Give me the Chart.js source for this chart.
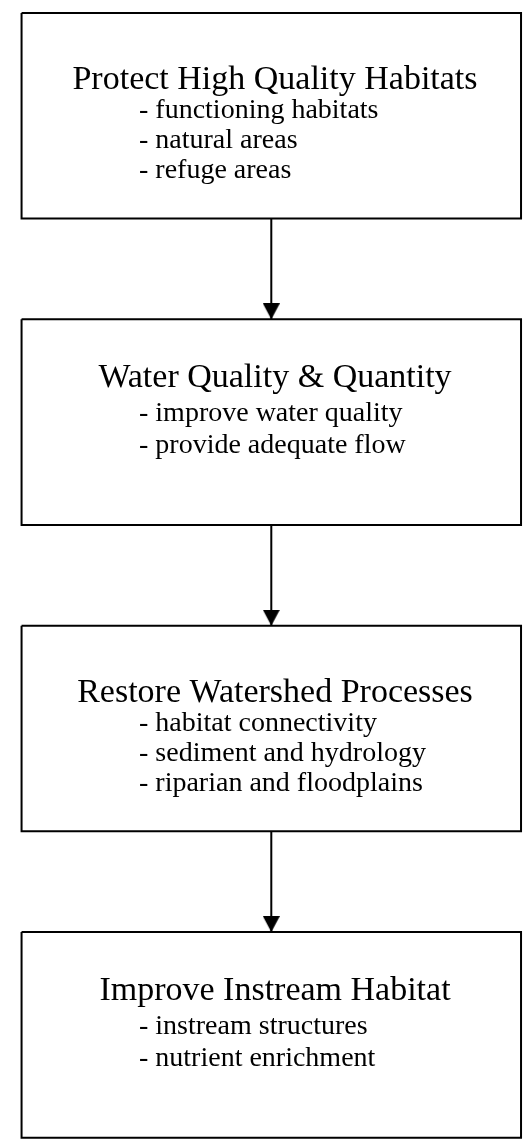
<!DOCTYPE html>
<html><head><meta charset="utf-8">
<script src="https://cdn.jsdelivr.net/npm/chart.js@4/dist/chart.umd.min.js"></script>
<style>html,body{margin:0;padding:0;background:#fff;}#wrap{width:531px;height:1140px;position:relative;}</style>
</head><body><div id="wrap"><canvas id="c"></canvas></div>
<script>
// ---- data ----
const stageTitles = ["Protect High Quality Habitats", "Water Quality & Quantity", "Restore Watershed Processes", "Improve Instream Habitat"];
const stageItems = [
  ["functioning habitats", "natural areas", "refuge areas"],
  ["improve water quality", "provide adequate flow"],
  ["habitat connectivity", "sediment and hydrology", "riparian and floodplains"],
  ["instream structures", "nutrient enrichment"]
];
const stageOrder = [0, 1, 2, 3];

// ---- layout (not data) ----
const BOX_H = 0.671;         // box height in stage units
const TITLE_FONT = '34px "Liberation Serif", "Times New Roman", serif';
const ITEM_FONT = '28px "Liberation Serif", "Times New Roman", serif';
// baseline offsets (px below box top): [title, item1, item2, ...]
const LINE_OFFSETS = { 3: [76, 105, 135, 165], 2: [68, 102, 134] };
const itemX = 139;
const titleX = 275;

// arrowhead image: tip at the centre of the canvas
const head = document.createElement('canvas');
head.width = 17; head.height = 32;
(function(){const g = head.getContext('2d'); g.fillStyle = '#000'; g.beginPath(); g.moveTo(0,0); g.lineTo(17,0); g.lineTo(8.5,16); g.closePath(); g.fill();})();

const datasets = [];
stageOrder.forEach(i => {
  datasets.push({
    data: [{x:0,y:i},{x:1,y:i},{x:1,y:i+BOX_H},{x:0,y:i+BOX_H},{x:0,y:i}],
    showLine: true, borderColor: '#000', borderWidth: 2, pointRadius: 0, tension: 0, fill: false,
    borderJoinStyle: 'miter', clip: false
  });
});
stageOrder.slice(0, -1).forEach(i => {
  datasets.push({
    data: [{x:0.5,y:i+BOX_H},{x:0.5,y:i+1}],
    showLine: true, borderColor: '#000', borderWidth: 2, pointRadius: 0, clip: false
  });
});
datasets.push({
  data: stageOrder.slice(1).map(i => ({x:0.5, y:i})),
  showLine: false, pointStyle: head, pointRadius: 9, borderWidth: 0, clip: false
});

const textPlugin = {
  id: 'boxText',
  afterDatasetsDraw(chart) {
    const ctx = chart.ctx, ys = chart.scales.y;
    ctx.save();
    ctx.fillStyle = '#000';
    ctx.textBaseline = 'alphabetic';
    stageOrder.forEach(i => {
      const top = ys.getPixelForValue(i);
      const offs = LINE_OFFSETS[stageItems[i].length];
      ctx.font = TITLE_FONT; ctx.textAlign = 'center';
      ctx.fillText(stageTitles[i], titleX, top + offs[0]);
      ctx.font = ITEM_FONT; ctx.textAlign = 'left';
      stageItems[i].forEach((t, k) => {
        ctx.fillText('- ' + t, itemX, top + offs[k + 1]);
      });
    });
    ctx.restore();
  }
};

new Chart(document.getElementById('c'), {
  type: 'scatter',
  data: { datasets },
  options: {
    responsive: true, maintainAspectRatio: false, animation: false,
    layout: { padding: 0 },
    plugins: { legend: { display: false }, tooltip: { enabled: false } },
    events: [],
    scales: {
      x: { type: 'linear', display: false, min: -13/517, max: 518/517 },
      y: { type: 'linear', display: false, reverse: true, min: -4/311.3, max: 1136/311.3 }
    }
  },
  plugins: [textPlugin]
});
</script></body></html>
